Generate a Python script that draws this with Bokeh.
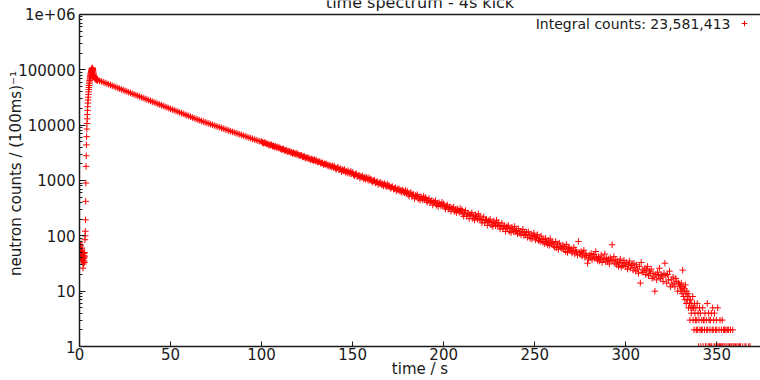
import numpy as np
from bokeh.plotting import figure
from bokeh.models import (Range1d, FixedTicker, Label, Legend, LegendItem,
                          ColumnDataSource, Span)
from bokeh.embed import file_html
from bokeh.resources import INLINE

# ---------------- data ----------------
title_text = "time spectrum - 4s kick"
legend_text = "Integral counts: 23,581,413"
x_label = "time / s"
y_label = "neutron counts / (100ms)\u207b\u00b9"
x_ticks = [0, 50, 100, 150, 200, 250, 300, 350]
y_ticks = [1, 10, 100, 1000, 10000, 100000, 1000000]
y_tick_labels = ["1", "10", "100", "1000", "10000", "100000", "1e+06"]

# segment 1: 0.0 - 9.9 s (0.1 s bins)
seg1_start, seg1_step = 0.0, 0.1
seg1_counts = [
    62, 75, 48, 55, 70, 44, 58, 66, 51, 47,
    40, 53, 37, 45, 60, 34, 42, 38, 49, 26,
    36, 44, 31, 39, 48, 35, 41, 33, 50, 43,
    85, 100, 121, 195, 420, 900, 1800, 2800, 4400, 6200,
    8500, 10700, 13000, 15500, 18500, 21500, 25000, 28500, 32000, 36000,
    40000, 44000, 48000, 52000, 56000, 60000, 64000, 68000, 71000, 75000,
    78000, 81000, 84000, 87000, 90000, 93000, 96000, 99000, 102000, 105000,
    107000, 108000, 106000, 102000, 97000, 92000, 88000, 84000, 81000, 78500,
    76500, 75000, 73500, 72500, 71500, 70500, 70000, 69500, 69000, 68500,
    68000, 67600, 67200, 66800, 66500, 66200, 65900, 65600, 65300, 65000,
]

# segment 2: 10 - 99 s (1 s samples)
seg2_start, seg2_step = 10.0, 1.0
seg2_counts = [
    64700, 63200, 61700, 59900, 58100, 56400, 54700, 53100, 51500, 50000,
    48500, 47100, 45700, 44300, 43000, 41800, 40500, 39300, 38200, 37000,
    35900, 34900, 33900, 32900, 31900, 30900, 30000, 29100, 28300, 27400,
    26600, 25800, 25100, 24300, 23600, 22900, 22200, 21600, 20900, 20300,
    19700, 19100, 18600, 18000, 17500, 17000, 16500, 16000, 15500, 15000,
    14600, 14200, 13700, 13300, 12900, 12600, 12200, 11880, 11570, 11270,
    10970, 10690, 10410, 10130, 9870, 9610, 9360, 9110, 8880, 8640,
    8420, 8200, 7980, 7780, 7570, 7380, 7180, 7000, 6810, 6640,
    6460, 6290, 6130, 5970, 5810, 5660, 5510, 5370, 5230, 5090,
]

# segment 3: 100 - 239.5 s (0.5 s samples)
seg3_start, seg3_step = 100.0, 0.5
seg3_counts = [
    5090, 4860, 4710, 4800, 4830, 4570, 4580, 4600, 4300, 4450,
    4330, 4420, 4160, 4230, 4010, 4180, 4010, 3930, 4060, 3840,
    3910, 3730, 3620, 3680, 3720, 3460, 3510, 3540, 3300, 3410,
    3320, 3370, 3180, 3240, 3050, 3190, 3080, 2990, 3130, 2930,
    3010, 2850, 2780, 2830, 2860, 2650, 2700, 2720, 2520, 2620,
    2550, 2590, 2440, 2480, 2340, 2450, 2360, 2290, 2400, 2240,
    2310, 2190, 2130, 2180, 2200, 2040, 2070, 2090, 1930, 2010,
    1960, 1990, 1870, 1910, 1800, 1880, 1810, 1760, 1850, 1720,
    1810, 1660, 1590, 1680, 1740, 1560, 1590, 1630, 1440, 1560,
    1500, 1580, 1420, 1480, 1360, 1500, 1400, 1330, 1470, 1320,
    1390, 1280, 1220, 1290, 1330, 1180, 1220, 1250, 1100, 1190,
    1150, 1210, 1080, 1130, 1040, 1150, 1080, 1010, 1120, 1010,
    1060, 980, 935, 985, 1010, 905, 935, 955, 845, 910,
    880, 925, 830, 865, 795, 875, 820, 775, 860, 780,
    815, 755, 720, 760, 775, 695, 717, 735, 650, 700,
    675, 710, 635, 665, 610, 675, 630, 600, 660, 590,
    640, 560, 520, 575, 610, 515, 550, 560, 470, 535,
    515, 555, 465, 500, 440, 510, 480, 445, 520, 455,
    490, 430, 405, 440, 470, 395, 422, 432, 360, 412,
    397, 430, 357, 385, 340, 397, 372, 345, 405, 352,
    378, 331, 307, 340, 362, 303, 324, 332, 277, 318,
    306, 330, 276, 297, 262, 306, 286, 265, 312, 271,
    298, 249, 225, 258, 286, 226, 248, 256, 204, 245,
    233, 262, 205, 227, 193, 240, 221, 199, 249, 205,
    228, 192, 172, 197, 220, 172, 191, 196, 155, 187,
    180, 200, 157, 174, 147, 184, 169, 152, 192, 157,
    175, 148, 133, 152, 170, 133, 146, 151, 120, 145,
    139, 155, 121, 135, 114, 143, 131, 118, 148, 121,
]

# segment 4: 240 - 329.5 s (0.5 s samples)
seg4_start, seg4_step = 240.0, 0.5
seg4_counts = [
    125, 108, 134, 112, 121, 104, 119, 131, 101, 114,
    104, 116, 94, 118, 102, 90, 108, 88, 101, 112,
    97, 84, 92, 105, 82, 90, 79, 99, 87, 76,
    86, 72, 90, 79, 70, 83, 67, 88, 72, 77,
    75, 65, 62, 79, 61, 71, 57, 74, 65, 60,
    60, 68, 56, 64, 52, 70, 50, 61, 59, 54,
    58, 49, 53, 62, 47, 55, 51, 45, 79, 50,
    46, 52, 43, 49, 55, 41, 47, 44, 32, 38,
    45, 40, 48, 37, 43, 46, 39, 52, 41, 36,
    42, 35, 38, 45, 33, 40, 37, 47, 34, 39,
    34, 38, 31, 40, 36, 69, 35, 42, 32, 37,
    30, 35, 28, 33, 38, 27, 32, 29, 36, 31,
    28, 33, 25, 30, 35, 26, 29, 31, 24, 32,
    27, 23, 30, 25, 21, 28, 14, 33, 22, 24,
    22, 26, 20, 24, 28, 19, 23, 21, 25, 17,
    21, 18, 10, 20, 16, 22, 19, 26, 17, 20,
    18, 15, 21, 32, 19, 14, 20, 16, 23, 12,
    16, 13, 18, 14, 12, 17, 15, 10, 14, 13,
]

# segment 5: 330 - 369.75 s (0.25 s samples); zero counts are not shown on log axis
seg5_start, seg5_step = 330.0, 0.25
seg5_counts = [
    12, 10, 14, 11, 9, 24, 12, 8, 10, 11, 7, 13, 9, 6, 10, 8,
    7, 9, 5, 8, 6, 3, 7, 5, 4, 6, 5, 8, 3, 5, 2, 6,
    4, 3, 5, 2, 3, 6, 2, 4, 1, 3, 5, 2, 4, 1, 2, 3,
    2, 5, 1, 3, 3, 2, 4, 1, 1, 3, 2, 6, 2, 1, 4, 3,
    1, 2, 3, 1, 4, 1, 2, 5, 2, 3, 1, 4, 1, 2, 0, 3,
    2, 1, 5, 1, 0, 2, 1, 3, 1, 0, 2, 1, 3, 1, 0, 2,
    1, 2, 1, 0, 2, 0, 1, 2, 0, 1, 2, 0, 1, 0, 2, 1,
    0, 1, 0, 2, 1, 0, 1, 0, 0, 1, 0, 0, 1, 0, 0, 1,
    0, 0, 1, 0, 1, 0, 0, 0, 0, 1, 0, 0, 0, 0, 1, 0,
    1, 0, 0, 0, 0, 0, 1, 0, 0, 1, 0, 0, 0, 0, 0, 0,
]

segments = [
    (seg1_start, seg1_step, seg1_counts),
    (seg2_start, seg2_step, seg2_counts),
    (seg3_start, seg3_step, seg3_counts),
    (seg4_start, seg4_step, seg4_counts),
    (seg5_start, seg5_step, seg5_counts),
]
t_all, c_all = [], []
for start, step, counts in segments:
    for i, c in enumerate(counts):
        if c > 0:
            t_all.append(start + step * i)
            c_all.append(c)

src = ColumnDataSource(data=dict(t=t_all, counts=c_all))

# ---------------- figure ----------------
FONT = "DejaVu Sans"
INK = "#1a1a1a"
W, H = 760, 380
LEFT, BOTTOM = 79, 33
FRAME_H = H - BOTTOM          # frame reaches the top edge of the page
AXIS_TOP_PX = 14              # the 1e+06 border sits 14 px below the page top
y_min, y_max = y_ticks[0], y_ticks[-1]
decades = np.log10(y_max / y_min)
y_end = y_min * 10 ** (decades * FRAME_H / (FRAME_H - AXIS_TOP_PX))

p = figure(width=W, height=H,
           x_range=Range1d(0, 374), y_range=Range1d(y_min, y_end),
           y_axis_type="log", output_backend="svg", toolbar_location=None,
           min_border_left=LEFT, min_border_right=0,
           min_border_top=0, min_border_bottom=BOTTOM)
p.outline_line_color = None
p.xgrid.visible = False
p.ygrid.visible = False
p.background_fill_color = "white"
p.border_fill_color = "white"

r = p.scatter("t", "counts", source=src, marker="cross", size=6.5,
              line_color="#ff0000", line_width=1, line_alpha=1.0)

# bottom axis
xa = p.xaxis[0]
xa.ticker = FixedTicker(ticks=x_ticks)
xa.axis_label = x_label
xa.axis_label_text_font = FONT
xa.axis_label_text_font_size = "15px"
xa.axis_label_text_font_style = "normal"
xa.axis_label_text_color = INK
xa.axis_label_standoff = -3
xa.major_label_text_font = FONT
xa.major_label_text_font_size = "15px"
xa.major_label_text_color = INK
xa.major_label_standoff = 1
xa.major_tick_in = 5
xa.major_tick_out = 0
xa.minor_tick_in = 0
xa.minor_tick_out = 0
xa.axis_line_width = 1.5
xa.axis_line_color = INK
xa.major_tick_line_color = INK

# left axis
ya = p.yaxis[0]
minor = [m * 10 ** k for k in range(0, 6) for m in range(2, 10)]
ya.ticker = FixedTicker(ticks=y_ticks, minor_ticks=minor)
ya.bounds = (y_min, y_max)
ya.major_label_overrides = {float(v): s for v, s in zip(y_ticks, y_tick_labels)}
ya.axis_label = y_label
ya.axis_label_text_font = FONT
ya.axis_label_text_font_size = "15px"
ya.axis_label_text_font_style = "normal"
ya.axis_label_text_color = INK
ya.axis_label_standoff = -10
ya.major_label_text_font = FONT
ya.major_label_text_font_size = "15px"
ya.major_label_text_color = INK
ya.major_label_standoff = 4
ya.major_tick_in = 6
ya.major_tick_out = 0
ya.minor_tick_in = 3
ya.minor_tick_out = 0
ya.axis_line_width = 1.5
ya.axis_line_color = INK
ya.major_tick_line_color = INK
ya.minor_tick_line_color = INK

# top border of the plot box at 1e+06
p.add_layout(Span(location=y_max, dimension="width",
                  line_color=INK, line_width=1.5))

# title (partly above the window, as in the reference)
p.add_layout(Label(x=(W - LEFT) / 2, y=FRAME_H - 3, x_units="screen",
                   y_units="screen", text=title_text, text_align="center",
                   text_baseline="alphabetic", text_font=FONT,
                   text_font_size="16px", text_color=INK))

# key
p.add_layout(Label(x=651, y=FRAME_H - 24, x_units="screen", y_units="screen",
                   text=legend_text, text_align="right",
                   text_baseline="middle", text_font=FONT,
                   text_font_size="14px", text_color=INK))
legend = Legend(items=[LegendItem(label=" ", renderers=[r])],
                location=(658, FRAME_H - 31), glyph_width=14, glyph_height=14,
                padding=0, margin=0, spacing=0, label_standoff=0,
                label_width=0, label_height=14, label_text_font_size="1px",
                border_line_color=None, background_fill_alpha=0)
p.add_layout(legend)

open("out.html", "w").write(file_html(p, INLINE))
